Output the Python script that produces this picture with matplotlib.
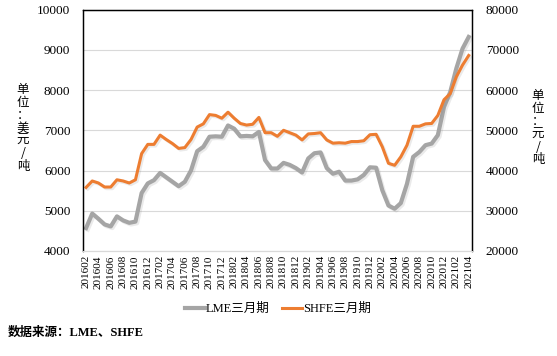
import matplotlib

matplotlib.use("Agg")
import matplotlib.pyplot as plt
import matplotlib.patheffects as pe
import pandas as pd

# monthly categories 2016-02 .. 2021-04
MONTHS = [p.strftime("%Y%m") for p in pd.period_range("2016-02", "2021-04", freq="M")]

# LME three-month (USD/t, left axis)
lme = [4570, 4930, 4800, 4660, 4610, 4860, 4760, 4700, 4730, 5440,
       5680, 5760, 5940, 5830, 5720, 5610, 5720, 6000, 6480, 6590,
       6840, 6850, 6840, 7120, 7040, 6850, 6860, 6850, 6960, 6260,
       6050, 6050, 6190, 6140, 6060, 5950, 6300, 6430, 6450, 6060,
       5920, 5970, 5750, 5750, 5780, 5890, 6080, 6070, 5510, 5130,
       5050, 5190, 5670, 6340, 6460, 6630, 6670, 6880, 7580, 7950,
       8540, 9030, 9320]

# SHFE three-month (CNY/t, right axis)
shfe = [35800, 37400, 36900, 35900, 35900, 37700, 37400, 36900, 37700, 44200,
        46500, 46500, 48800, 47700, 46700, 45500, 45700, 47700, 50800, 51600,
        53900, 53700, 53000, 54500, 53000, 51700, 51300, 51500, 53200, 49400,
        49400, 48500, 50000, 49400, 48800, 47600, 49100, 49200, 49400, 47600,
        46800, 46900, 46800, 47200, 47200, 47400, 48900, 49000, 45900, 41800,
        41300, 43400, 46300, 51000, 51000, 51600, 51700, 53700, 57600, 59100,
        63300, 66200, 68600]

left_ticks = [4000, 5000, 6000, 7000, 8000, 9000, 10000]
right_ticks = [20000, 30000, 40000, 50000, 60000, 70000, 80000]

FONT = ["Liberation Serif", "Noto Sans CJK SC"]
GREY = "#A5A5A5"
ORANGE = "#ED7D31"

plt.rcParams["font.family"] = FONT

fig = plt.figure(figsize=(5.57, 3.56), dpi=100)
ax = fig.add_axes([0.149, 0.295, 0.698, 0.678])
ax2 = ax.twinx()

x = list(range(len(MONTHS)))
shadow = [pe.SimpleLineShadow(offset=(1.2, -1.2), alpha=0.16, shadow_color="#808080"), pe.Normal()]
l1, = ax.plot(x, lme, color=GREY, lw=3.0, solid_joinstyle="round", path_effects=shadow, label="LME三月期")
l2, = ax2.plot(x, shfe, color=ORANGE, lw=2.2, solid_joinstyle="round", path_effects=shadow, label="SHFE三月期")

ax.set_xlim(-0.5, len(MONTHS) - 0.5)
ax.set_ylim(4000, 10000)
ax2.set_ylim(20000, 80000)
ax.set_yticks(left_ticks)
ax2.set_yticks(right_ticks)
ax.set_xticks(x[::2])
ax.set_xticklabels(MONTHS[::2], rotation=90, fontsize=8)
ax.tick_params(axis="x", length=0, pad=3)
ax.tick_params(axis="y", length=0, pad=9, labelsize=9.5)
ax2.tick_params(axis="y", length=0, pad=10, labelsize=9.5)

ax.grid(axis="y", color="#D9D9D9", lw=0.8)
ax.set_axisbelow(True)
for a in (ax, ax2):
    a.spines["left"].set_color("black")
    a.spines["right"].set_color("black")
    a.spines["top"].set_color("black")
    a.spines["bottom"].set_color("#D9D9D9")
    for s in ("left", "right", "top"):
        a.spines[s].set_linewidth(0.9)

unit_left = "\n".join("单位：美元/吨")
unit_right = "\n".join("单位：元/吨")
fig.text(23 / 557, 1 - 128 / 356, unit_left, ha="center", va="center", fontsize=9,
         linespacing=0.98, family=["Noto Sans CJK SC", "DejaVu Sans"])
fig.text(538 / 557, 1 - 128 / 356, unit_right, ha="center", va="center", fontsize=9,
         linespacing=0.98, family=["Noto Sans CJK SC", "DejaVu Sans"])

fig.legend(handles=[l1, l2], loc="center", bbox_to_anchor=(278 / 557, 1 - 309 / 356),
           ncol=2, frameon=False, fontsize=9, handlelength=1.6, handletextpad=0.1,
           columnspacing=1.0)
for h in fig.legends[0].legend_handles:
    h.set_path_effects([])

fig.text(8 / 557, 1 - 333 / 356, "数据来源：LME、SHFE", ha="left", va="center",
         fontsize=9, fontweight="bold")

fig.savefig("out.png", dpi=100)
